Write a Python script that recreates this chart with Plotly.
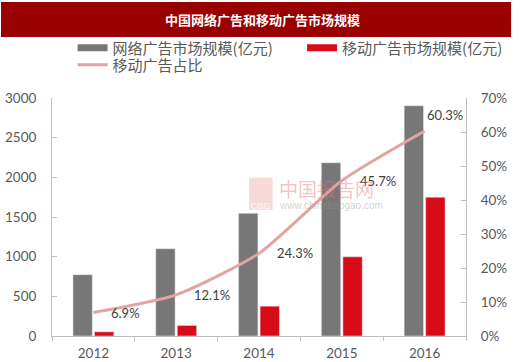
import plotly.graph_objects as go

years = ["2012", "2013", "2014", "2015", "2016"]
online_ad = [773, 1100, 1546, 2184, 2902]
mobile_ad = [53, 133, 376, 998, 1750]
mobile_share = [0.069, 0.121, 0.243, 0.457, 0.603]
share_labels = ["6.9%", "12.1%", "24.3%", "45.7%", "60.3%"]

name_online = "网络广告市场规模(亿元)"
name_mobile = "移动广告市场规模(亿元)"
name_share = "移动广告占比"
title_text = "中国网络广告和移动广告市场规模"

GRAY = "#777777"
RED = "#D80C18"
PINK = "#E3A3A3"
TXT = "#595959"
AX = "#BFBFBF"
NUMFONT = "Lato"
CJK = "Noto Sans CJK SC"

fig = go.Figure()
fig.add_trace(go.Bar(x=years, y=online_ad, marker_color=GRAY, showlegend=False, name=name_online))
fig.add_trace(go.Bar(x=years, y=mobile_ad, marker_color=RED, showlegend=False, name=name_mobile))
fig.add_trace(go.Scatter(x=years, y=mobile_share, yaxis="y2", mode="lines",
                         line=dict(color=PINK, width=3, shape="spline", smoothing=0.6),
                         showlegend=False, name=name_share))
# legend swatches (no data drawn)
empty = [None] * len(years)
fig.add_trace(go.Scatter(x=years, y=empty, yaxis="y2", mode="lines", line=dict(color=GRAY, width=7),
                         name=name_online, legend="legend"))
fig.add_trace(go.Scatter(x=years, y=empty, yaxis="y2", mode="lines", line=dict(color=RED, width=7),
                         name=name_mobile, legend="legend2"))
fig.add_trace(go.Scatter(x=years, y=empty, yaxis="y2", mode="lines", line=dict(color=PINK, width=3),
                         name=name_share, legend="legend3"))

annotations = []
for i, (v, lab) in enumerate(zip(mobile_share, share_labels)):
    last = i == len(years) - 1
    annotations.append(dict(x=i, y=v, xref="x", yref="y2", text=lab, showarrow=False,
                            xanchor="left", yanchor="middle", xshift=16 if not last else 0,
                            yshift=0 if not last else 16,
                            font=dict(family=NUMFONT, size=13, color="#404040")))
# watermark
annotations.append(dict(x=0.543, y=0.62, xref="paper", yref="paper", text="中国报告网", showarrow=False,
                        xanchor="left", yanchor="middle",
                        font=dict(family=CJK, size=19, color="rgba(225,120,120,0.45)")))
annotations.append(dict(x=0.543, y=0.55, xref="paper", yref="paper", text="www.chinabaogao.com", showarrow=False,
                        xanchor="left", yanchor="middle",
                        font=dict(family="Liberation Sans", size=10, color="rgba(150,150,150,0.45)")))
annotations.append(dict(x=0.505, y=0.545, xref="paper", yref="paper", text="CBG", showarrow=False,
                        xanchor="center", yanchor="middle",
                        font=dict(family="Liberation Sans", size=9, color="rgba(255,255,255,0.8)")))

shapes = [
    dict(type="rect", xref="paper", yref="paper", x0=-52/422, x1=468/422, y0=1 + 61/238, y1=1 + 96/238,
         fillcolor="#990000", line=dict(width=0), layer="below"),
    dict(type="rect", xref="paper", yref="paper", x0=0.476, x1=0.533, y0=0.53, y1=0.665,
         fillcolor="rgba(230,150,150,0.35)", line=dict(width=0), layer="above"),
]

leg_common = dict(orientation="h", xanchor="left", yanchor="middle",
                  font=dict(family=CJK, size=15, color=TXT), itemwidth=30,
                  bgcolor="rgba(0,0,0,0)")

fig.update_layout(
    width=520, height=362,
    margin=dict(l=52, r=46, t=98, b=26),
    paper_bgcolor="white", plot_bgcolor="white",
    barmode="group", bargap=0.48, bargroupgap=0.1,
    title=dict(text="<b>" + title_text + "</b>", x=0.505, xanchor="center", y=1 - 20/362, yanchor="middle",
               font=dict(family=CJK, size=13, color="white")),
    legend=dict(x=0.0497, y=1 + 50/238, **leg_common),
    legend2=dict(x=0.604, y=1 + 50/238, **leg_common),
    legend3=dict(x=0.0497, y=1 + 33/238, **leg_common),
    xaxis=dict(type="category", range=[-0.5, 4.5], showline=True, linecolor=AX, linewidth=1, ticks="outside",
               tickson="boundaries", ticklen=4, tickcolor=AX, showgrid=False, automargin=False,
               ticklabelstandoff=5,
               tickfont=dict(family=NUMFONT, size=13.5, color=TXT)),
    yaxis=dict(range=[0, 3000], dtick=500, showline=True, linecolor=AX, ticks="inside", ticklen=5,
               tickcolor=AX, showgrid=False, zeroline=False, automargin=False,
               tickfont=dict(family=NUMFONT, size=13.5, color=TXT), ticklabelstandoff=12),
    yaxis2=dict(range=[0, 0.7], dtick=0.1, tickformat=".0%", overlaying="y", side="right",
                showline=True, linecolor=AX, ticks="inside", ticklen=5, tickcolor=AX,
                showgrid=False, zeroline=False, ticklabelstandoff=11, automargin=False,
                tickfont=dict(family=NUMFONT, size=13.5, color=TXT)),
    annotations=annotations, shapes=shapes,
)

fig.write_html("out.html", config={"displayModeBar": False},
               post_script="document.body.style.margin='0';document.body.style.overflow='hidden';")
